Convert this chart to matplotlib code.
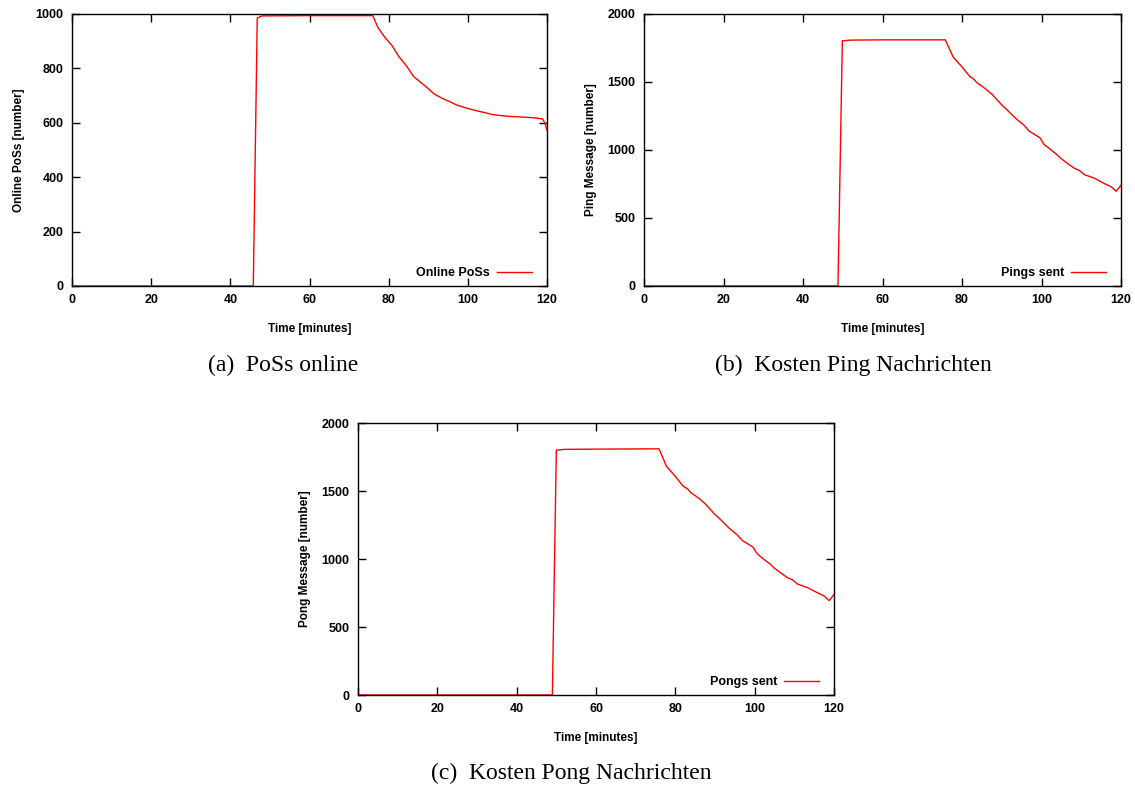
import matplotlib
matplotlib.use("Agg")
import matplotlib.pyplot as plt

# ---- data ----
t_online = [0, 45.8, 46.8, 48, 60, 76, 77.3, 79, 80.9, 82.5, 84.5, 86.3, 88, 89.9, 91.5,
            93.5, 95.5, 97.1, 99.9, 102, 104.4, 106, 108, 110, 112.5, 115, 117, 118.9, 119.5, 120]
v_online = [0, 0, 985, 993, 994, 994, 950, 915, 883, 845, 809, 770, 750, 727, 706,
            690, 677, 666, 653, 645, 637, 631, 627, 624, 622, 620, 618, 614, 598, 573]

t_ping = [0, 48.8, 49.9, 52, 60, 75.8, 77.8, 79.7, 82, 83, 83.9, 85, 86.2, 87.6, 89.9,
          91.5, 93.6, 95.5, 96.9, 99.6, 100.6, 102, 103.8, 105, 106.6, 108.4, 109.5, 110.8,
          113.5, 115.8, 117.5, 118.8, 120]
v_ping = [0, 0, 1803, 1808, 1810, 1810, 1682, 1621, 1540, 1520, 1491, 1470, 1443, 1408, 1335,
          1290, 1230, 1185, 1139, 1090, 1042, 1010, 968, 935, 900, 863, 850, 819,
          790, 753, 730, 697, 741]

t_pong = [0, 49.0, 50.0, 52, 60, 75.9, 77.8, 79.7, 82, 83, 83.9, 85, 86.2, 87.6, 89.9,
          91.5, 93.6, 95.5, 96.9, 99.6, 100.6, 102, 103.8, 105, 106.6, 108.4, 109.5, 110.8,
          113.5, 115.8, 117.5, 118.8, 120]
v_pong = [0, 0, 1800, 1806, 1808, 1810, 1680, 1618, 1535, 1518, 1488, 1466, 1440, 1404, 1330,
          1287, 1226, 1180, 1136, 1087, 1040, 1005, 965, 932, 897, 860, 848, 816,
          787, 752, 728, 694, 740]

x_ticks = [0, 20, 40, 60, 80, 100, 120]
y_ticks_a = [0, 200, 400, 600, 800, 1000]
y_ticks_bc = [0, 500, 1000, 1500, 2000]

W, H = 1135, 787
fig = plt.figure(figsize=(W / 100, H / 100), dpi=100)

sans = ["Liberation Sans", "DejaVu Sans"]
serif = ["Liberation Serif", "DejaVu Serif"]


def px_axes(left, top, right, bottom):
    return fig.add_axes([left / W, 1 - bottom / H, (right - left) / W, (bottom - top) / H])


def style(ax, t, v, yticks, ymax, ylabel, legend, caption, cap_x, cap_y):
    ax.plot(t, v, color="#ff0000", lw=1.0, label=legend)
    ax.set_xlim(0, 120)
    ax.set_ylim(0, ymax)
    ax.set_xticks(x_ticks)
    ax.set_yticks(yticks)
    ax.tick_params(direction="in", length=6, width=1, top=True, right=True,
                   labelsize=9, pad=6)
    for lab in ax.get_xticklabels() + ax.get_yticklabels():
        lab.set_fontfamily(sans)
        lab.set_fontweight("bold")
    for s in ax.spines.values():
        s.set_linewidth(1.0)
    ax.set_xlabel("Time [minutes]", fontsize=8.5, fontweight="bold", family=sans, labelpad=12)
    ax.set_ylabel(ylabel, fontsize=8.5, fontweight="bold", family=sans, labelpad=8)
    leg = ax.legend(loc="lower right", markerfirst=False, frameon=False,
                    prop={"family": sans, "weight": "bold", "size": 9},
                    handlelength=2.8, handletextpad=0.56, borderaxespad=0.4,
                    bbox_to_anchor=(0.99, -0.011))
    for l in leg.get_lines():
        l.set_linewidth(1.0)
    fig.text(cap_x / W, cap_y, caption, ha="center", va="center",
             family=serif, fontsize=17)


ax1 = px_axes(72, 14, 547, 286)
style(ax1, t_online, v_online, y_ticks_a, 1000, "Online PoSs [number]", "Online PoSs",
      "(a)  PoSs online", 283, 1 - 365 / H)

ax2 = px_axes(644, 14, 1121, 286)
style(ax2, t_ping, v_ping, y_ticks_bc, 2000, "Ping Message [number]", "Pings sent",
      "(b)  Kosten Ping Nachrichten", 853, 1 - 365 / H)

ax3 = px_axes(358, 423, 834, 695)
style(ax3, t_pong, v_pong, y_ticks_bc, 2000, "Pong Message [number]", "Pongs sent",
      "(c)  Kosten Pong Nachrichten", 571, 1 - 773 / H)

fig.savefig("out.png", dpi=100)
